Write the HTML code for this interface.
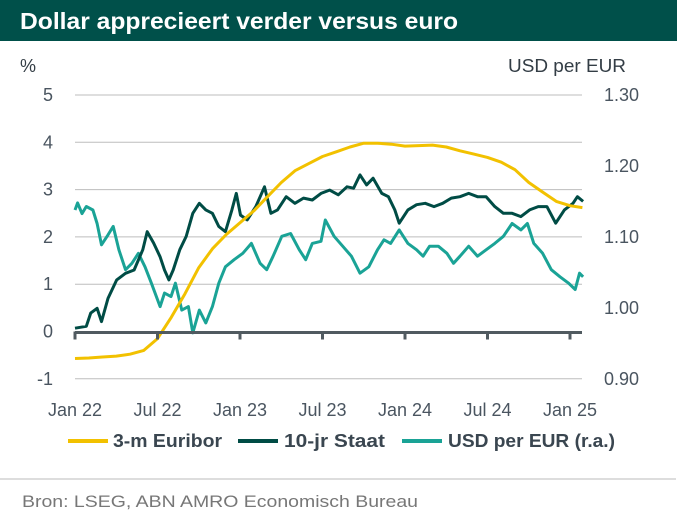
<!DOCTYPE html>
<html><head><meta charset="utf-8"><style>
body{margin:0;background:#fff;width:680px;height:513px;overflow:hidden;font-family:"Liberation Sans",sans-serif}
svg{display:block}
</style></head><body>
<svg width="680" height="513" viewBox="0 0 680 513">
<rect x="0" y="0" width="677" height="41" fill="#00504a"/>
<text x="20" y="29" font-size="23" font-weight="bold" fill="#fff" textLength="438" lengthAdjust="spacingAndGlyphs">Dollar apprecieert verder versus euro</text>
<text x="20" y="72" font-size="18" fill="#333d45">%</text>
<text x="508" y="72" font-size="18" fill="#333d45" textLength="118" lengthAdjust="spacingAndGlyphs">USD per EUR</text>
<g id="grid"></g><g id="series"></g><g id="axis"></g>
<g>
<line x1="68" y1="441" x2="108" y2="441" stroke="#f2c100" stroke-width="4"/>
<text x="113" y="447" font-size="18" font-weight="bold" fill="#3a4650" textLength="109" lengthAdjust="spacingAndGlyphs">3-m Euribor</text>
<line x1="238" y1="441" x2="278" y2="441" stroke="#004c45" stroke-width="4"/>
<text x="284" y="447" font-size="18" font-weight="bold" fill="#3a4650" textLength="101" lengthAdjust="spacingAndGlyphs">10-jr Staat</text>
<line x1="402" y1="441" x2="442" y2="441" stroke="#1aa396" stroke-width="4"/>
<text x="448" y="447" font-size="18" font-weight="bold" fill="#3a4650" textLength="167" lengthAdjust="spacingAndGlyphs">USD per EUR (r.a.)</text>
</g>
<line x1="0" y1="479" x2="676" y2="479" stroke="#bbb" stroke-width="1"/>
<text x="22" y="507" font-size="17" fill="#777" textLength="396" lengthAdjust="spacingAndGlyphs">Bron: LSEG, ABN AMRO Economisch Bureau</text>
</svg>
<script>
const leftTicks=[5,4,3,2,1,0,-1];
const rightTicks=["1.30","1.20","1.10","1.00","0.90"];
const xLabels=["Jan 22","Jul 22","Jan 23","Jul 23","Jan 24","Jul 24","Jan 25"];
const xLabelMonths=[0,6,12,18,24,30,36];
const euriborMonths=[0,1,2,3,4,5,6,7,8,9,10,11,12,13,14,15,16,17,18,19,20,21,22,23,24,25,26,27,28,29,30,31,32,33,34,35,36,36.9];
const euriborValues=[-0.57,-0.56,-0.54,-0.52,-0.48,-0.40,-0.15,0.30,0.80,1.35,1.75,2.05,2.30,2.55,2.85,3.15,3.40,3.55,3.70,3.80,3.90,3.98,3.98,3.96,3.92,3.93,3.94,3.90,3.82,3.75,3.68,3.58,3.42,3.15,2.95,2.75,2.66,2.62];
const staatMonths=[0,0.82,1.14,1.61,1.93,2.40,3.03,3.67,4.30,4.93,5.25,5.72,6.19,6.51,6.83,7.14,7.62,8.09,8.57,9.04,9.51,9.99,10.46,10.94,11.41,11.73,12.04,12.52,13.15,13.78,14.25,14.73,15.36,15.99,16.62,17.26,17.89,18.52,19.15,19.78,20.26,20.73,21.21,21.68,22.31,22.79,23.26,23.58,24.21,24.84,25.47,26.11,26.74,27.37,28.00,28.63,29.27,29.90,30.53,31.16,31.79,32.43,33.06,33.69,34.32,34.96,35.59,36.22,36.54,36.95];
const staatValues=[0.07,0.11,0.39,0.49,0.21,0.70,1.09,1.23,1.30,1.73,2.11,1.87,1.58,1.30,1.09,1.30,1.73,2.01,2.50,2.71,2.57,2.50,2.22,2.11,2.57,2.92,2.46,2.36,2.64,3.06,2.50,2.57,2.85,2.71,2.82,2.78,2.92,2.99,2.89,3.06,3.03,3.31,3.10,3.24,2.92,2.85,2.57,2.29,2.57,2.68,2.71,2.64,2.71,2.82,2.85,2.92,2.85,2.85,2.64,2.50,2.50,2.43,2.57,2.64,2.64,2.29,2.57,2.71,2.85,2.75];
const usdMonths=[0,0.19,0.51,0.82,1.30,1.61,1.93,2.40,2.78,3.19,3.67,4.14,4.61,5.09,5.56,6.19,6.51,6.98,7.30,7.77,8.25,8.57,9.04,9.51,9.99,10.46,10.94,11.57,12.20,12.83,13.46,13.94,14.41,15.04,15.68,16.31,16.78,17.26,17.89,18.20,18.84,19.47,20.10,20.73,21.37,22.00,22.47,22.95,23.58,24.21,24.84,25.32,25.79,26.42,27.05,27.53,28.00,28.63,29.27,29.90,30.53,31.16,31.79,32.43,32.90,33.37,34.01,34.64,35.27,35.90,36.38,36.69,36.95];
const usdValues=[1.138,1.148,1.133,1.143,1.138,1.119,1.089,1.103,1.115,1.082,1.054,1.063,1.077,1.058,1.035,1.002,1.021,1.016,1.035,0.997,1.002,0.965,0.997,0.979,1.002,1.035,1.058,1.068,1.077,1.091,1.063,1.054,1.073,1.101,1.105,1.082,1.068,1.091,1.094,1.124,1.101,1.087,1.073,1.049,1.058,1.082,1.096,1.091,1.110,1.091,1.082,1.073,1.087,1.087,1.077,1.063,1.073,1.087,1.073,1.082,1.091,1.101,1.119,1.110,1.119,1.091,1.077,1.054,1.044,1.035,1.026,1.049,1.044];

const NS="http://www.w3.org/2000/svg";
const X0=75,X1=582,PX_PER_M=13.75;
const xS=m=>X0+m*PX_PER_M;
const yL=v=>331.5-v*47.3;
const yR=v=>95+(1.30-v)*710;
function mk(tag,attrs,parent){const e=document.createElementNS(NS,tag);for(const k in attrs)e.setAttribute(k,attrs[k]);parent.appendChild(e);return e;}
const grid=document.getElementById('grid'),ser=document.getElementById('series'),ax=document.getElementById('axis');
leftTicks.forEach(t=>{
  if(t!==0){const g=mk('line',{x1:X0,x2:X1,y1:yL(t),y2:yL(t),stroke:'#bdbdbd','stroke-width':1},grid);
  
  }
  const l=mk('text',{x:53,y:yL(t)+6,'font-size':18,fill:'#4a5560','text-anchor':'end'},grid);l.textContent=t;
  
  
});
rightTicks.forEach(t=>{
  const l=mk('text',{x:604,y:yR(parseFloat(t))+6,'font-size':18,fill:'#4a5560'},grid);l.textContent=t;
  
  
});
function line(ms,vs,ys,color,name){
  const d=ms.map((m,i)=>(i?'L':'M')+xS(m).toFixed(1)+','+ys(vs[i]).toFixed(1)).join('');
  const p=mk('path',{d:d,fill:'none',stroke:color,'stroke-width':3,'stroke-linejoin':'round'},ser);
  
  
}
line(usdMonths,usdValues,yR,'#1aa396','usd-per-eur-line');
line(staatMonths,staatValues,yL,'#004c45','10jr-staat-line');
line(euriborMonths,euriborValues,yL,'#f2c100','euribor-line');
const a=mk('line',{x1:X0,x2:X1,y1:yL(0)+1,y2:yL(0)+1,stroke:'#505a60','stroke-width':3},ax);


xLabelMonths.forEach((m,i)=>{
  const t=mk('line',{x1:xS(m),x2:xS(m),y1:yL(0),y2:yL(0)+8,stroke:'#505a60','stroke-width':3},ax);
  
  
  const l=mk('text',{x:xS(m),y:416,'font-size':18,fill:'#4a5560','text-anchor':'middle'},ax);l.textContent=xLabels[i];
  
  
});
</script>
</body></html>
